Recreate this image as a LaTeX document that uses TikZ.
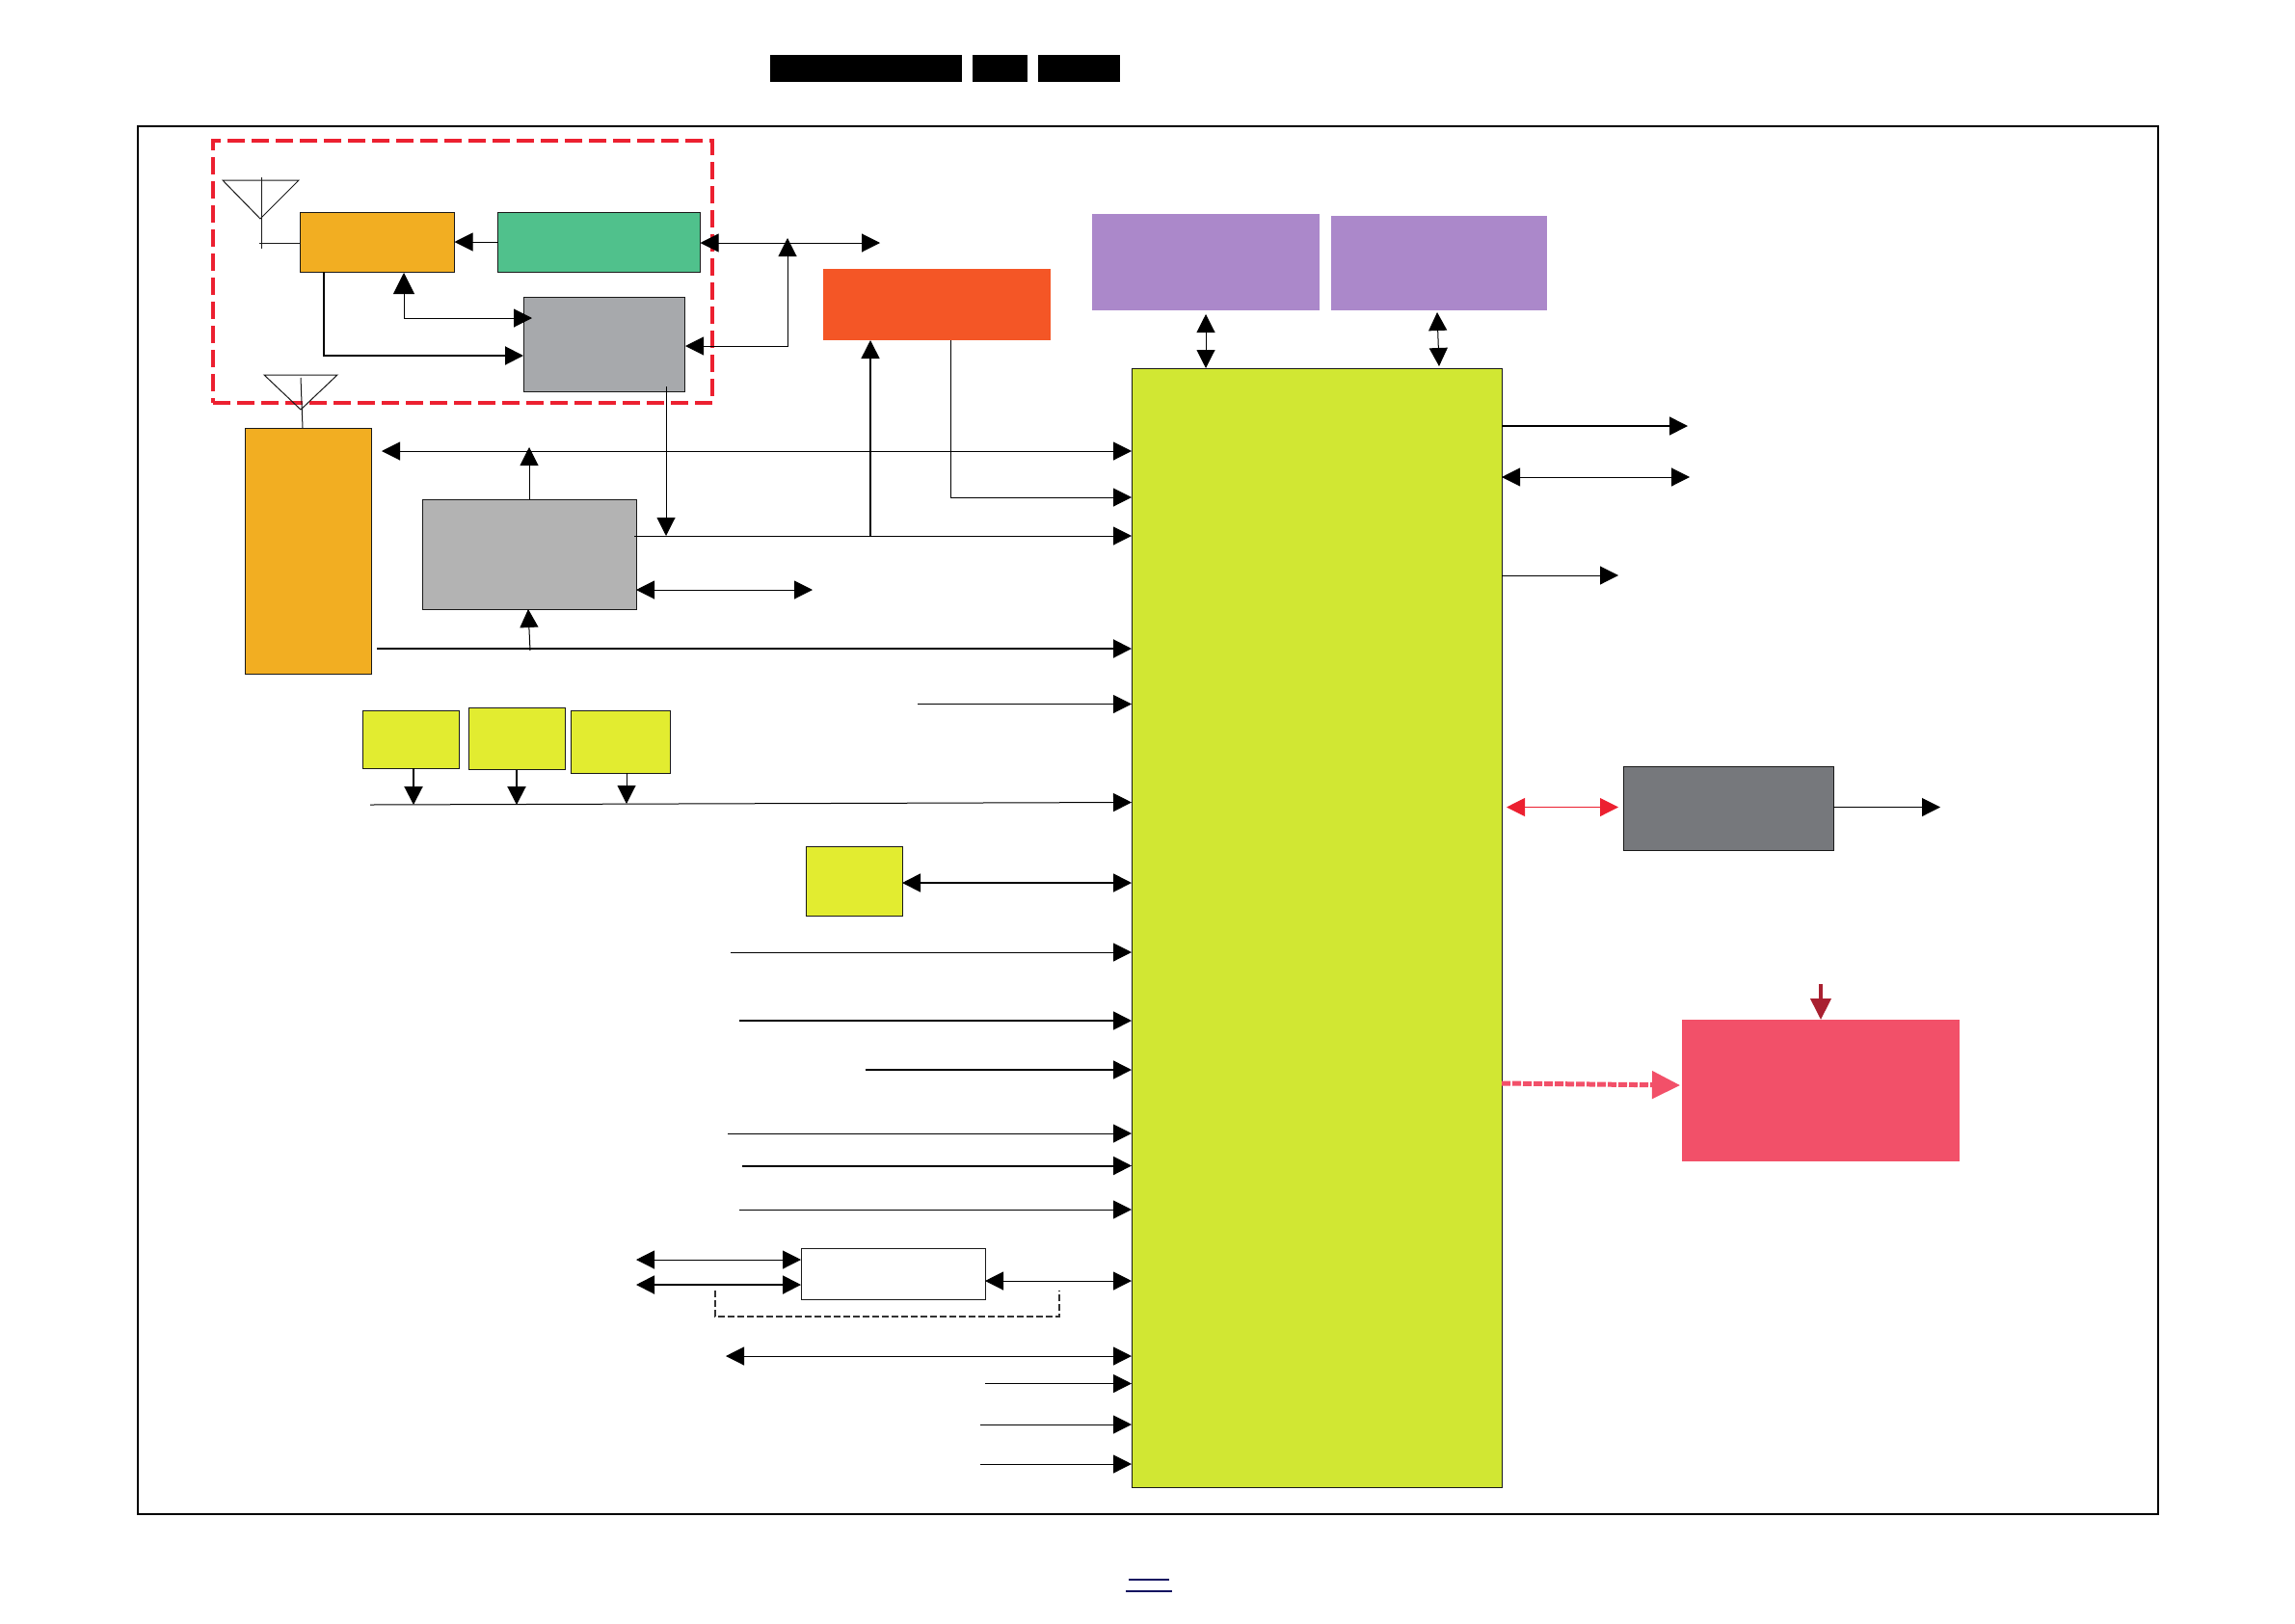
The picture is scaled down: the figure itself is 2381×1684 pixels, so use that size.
\documentclass[tikz,border=0pt]{standalone}
\usepackage{tikz}
\usetikzlibrary{arrows.meta}

\definecolor{radioorange}{HTML}{F2AE22}
\definecolor{radiogreen}{HTML}{50C18C}
\definecolor{darkblock}{HTML}{A7A9AC}
\definecolor{lightblock}{HTML}{B3B3B3}
\definecolor{hotorange}{HTML}{F45626}
\definecolor{memviolet}{HTML}{AB88CA}
\definecolor{socline}{HTML}{D1E733}
\definecolor{smallyellow}{HTML}{E2EC30}
\definecolor{slateblock}{HTML}{76787C}
\definecolor{panelpink}{HTML}{F25069}
\definecolor{zonered}{HTML}{EC2030}
\definecolor{crimson}{HTML}{A92030}
\definecolor{footnavy}{HTML}{101060}

\tikzset{
  blockbox/.style={draw=black!90,line width=1pt,inner sep=0pt,outer sep=0pt},
  flatbox/.style={inner sep=0pt,outer sep=0pt},
  sig/.style={-{Triangle[length=19pt,width=19pt]},line width=1pt,black},
  sigthick/.style={sig,line width=2pt},
  duplex/.style={{Triangle[length=19pt,width=19pt]}-{Triangle[length=19pt,width=19pt]},line width=1pt,black},
  duplexthick/.style={duplex,line width=2pt},
  aerial/.style={line width=1pt,black!90}
}

\begin{document}
\begin{tikzpicture}[x=1pt,y=-1pt]
  \useasboundingbox (0,0) rectangle (2381,1684);

  % page furniture
  \node[flatbox,fill=black,minimum width=199pt,minimum height=28pt] (barA) at (898.5,71) {};
  \node[flatbox,fill=black,minimum width=57pt,minimum height=28pt] (barB) at (1037.5,71) {};
  \node[flatbox,fill=black,minimum width=85pt,minimum height=28pt] (barC) at (1119.5,71) {};
  \node[draw=black,line width=2pt,inner sep=0pt,minimum width=2096pt,minimum height=1440pt] (frame) at (1190.5,850.5) {};
  \draw[footnavy,line width=1.5pt] (1171,1639) -- (1213,1639);
  \draw[footnavy,line width=1.5pt] (1168,1651) -- (1216,1651);

  % blocks
  \node[blockbox,fill=radioorange,minimum width=160pt,minimum height=62pt] (orangeA) at (391.5,251) {};
  \node[blockbox,fill=radiogreen,minimum width=210pt,minimum height=62pt] (greenA) at (621.5,251) {};
  \node[blockbox,fill=darkblock,minimum width=167pt,minimum height=98pt] (grayA) at (626.5,357) {};
  \node[blockbox,fill=radioorange,minimum width=131pt,minimum height=255pt] (orangeB) at (320,571.5) {};
  \node[blockbox,fill=lightblock,minimum width=222pt,minimum height=114pt] (grayB) at (549,575) {};
  \node[flatbox,fill=hotorange,minimum width=236pt,minimum height=74pt] (hotbox) at (972,316) {};
  \node[flatbox,fill=memviolet,minimum width=236pt,minimum height=100pt] (memA) at (1251,272) {};
  \node[flatbox,fill=memviolet,minimum width=224pt,minimum height=98pt] (memB) at (1493,273) {};
  \node[blockbox,fill=socline,minimum width=384pt,minimum height=1161pt] (main) at (1366,962.5) {};
  \node[blockbox,fill=smallyellow,minimum width=100pt,minimum height=60pt] (yelA) at (426,767) {};
  \node[blockbox,fill=smallyellow,minimum width=100pt,minimum height=64pt] (yelB) at (536,766.5) {};
  \node[blockbox,fill=smallyellow,minimum width=103pt,minimum height=65pt] (yelC) at (644,769.5) {};
  \node[blockbox,fill=smallyellow,minimum width=100pt,minimum height=72pt] (yelD) at (886,914) {};
  \node[blockbox,fill=white,minimum width=191pt,minimum height=53pt] (bridge) at (926.5,1321.5) {};
  \node[blockbox,fill=slateblock,minimum width=218pt,minimum height=87pt] (slate) at (1793,838.5) {};
  \node[flatbox,fill=panelpink,minimum width=288pt,minimum height=147pt] (panel) at (1889,1131.5) {};

  % tuner zone
  \node[draw=zonered,line width=4pt,dash pattern=on 18pt off 7pt,inner sep=0pt,minimum width=518pt,minimum height=272pt] (zone) at (480,282) {};

  % aerials
  \draw[aerial] (231,187) -- (310,187) -- (270,227) -- cycle;
  \draw[aerial] (271,184) -- (271,258);
  \coordinate (stemA) at (269,252);
  \draw[aerial] (stemA) -- (stemA -| orangeA.west);
  \draw[aerial] (274,389) -- (350,389) -- (312,425) -- cycle;
  \coordinate (stemB) at (312,392);
  \draw[aerial] (stemB) -- (314,444);

  % tuner zone links
  \draw[sig] (greenA.west) -- (orangeA.east);
  \coordinate (txOut) at (913,252);
  \draw[duplex] (greenA.east |- txOut) -- (txOut);
  \coordinate (ifUp) at (419,283);
  \coordinate (ifIn) at (552,330);
  \draw[duplex,{Triangle[length=22pt,width=22pt]}-{Triangle[length=19pt,width=19pt]}] (ifUp) |- (ifIn);
  \coordinate (rxDrop) at (336,282);
  \coordinate (rxIn) at (543,369);
  \draw[sigthick] (rxDrop) |- (rxIn);
  \coordinate (zoneTap) at (711,359);
  \coordinate (zoneUp) at (817,247);
  \draw[duplex] (zoneTap) -| (zoneUp);

  % left side, upper
  \coordinate (wifiIn) at (396,468);
  \draw[duplex] (wifiIn) -- (wifiIn -| main.west);
  \coordinate (grayUp) at (549,464);
  \draw[sig] (grayB.north) -- (grayUp);
  \coordinate (busStart) at (658,556);
  \coordinate (grayADrop) at (691,401);
  \draw[sig] (grayADrop) -- (grayADrop |- busStart);
  \draw[sig] (busStart) -- (busStart -| main.west);
  \coordinate (busTap) at (903,556);
  \draw[sigthick,line width=1.6pt] (busTap) -- (busTap |- hotbox.south);
  \coordinate (hotDrop) at (986,353);
  \coordinate (hotIn) at (1174,516);
  \draw[sig] (hotDrop) |- (hotIn);
  \coordinate (grayOut) at (843,612);
  \draw[duplex] (grayB.east |- grayOut) -- (grayOut);
  \coordinate (orangeOut) at (391,673);
  \draw[sigthick] (orangeOut) -- (orangeOut -| main.west);
  \coordinate (grayFeed) at (550,675);
  \draw[sig] (grayFeed) -- (548,632);

  % left side, lower
  \coordinate (inKey) at (952,730.5);
  \draw[sig] (inKey) -- (inKey -| main.west);
  \coordinate (yelBusA) at (384,835);
  \coordinate (yelBusB) at (1174,832.5);
  \draw[sig] (yelBusA) -- (yelBusB);
  \coordinate (yelDropA) at (429,797);
  \draw[sigthick] (yelDropA) -- (yelDropA |- yelBusA);
  \draw[sigthick] (yelB.south) -- (yelB.south |- yelBusA);
  \draw[sig] (650,802) -- (650,834);
  \draw[duplex,line width=1.8pt] (yelD.east |- 0,916) -- (main.west |- 0,916);
  \coordinate (inA) at (758,988);
  \coordinate (inB) at (767,1059);
  \coordinate (inC) at (898,1110);
  \coordinate (inD) at (755,1176);
  \coordinate (inE) at (770,1209.5);
  \coordinate (inF) at (767,1255);
  \draw[sig] (inA) -- (inA -| main.west);
  \draw[sig,line width=1.6pt] (inB) -- (inB -| main.west);
  \draw[sig,line width=1.6pt] (inC) -- (inC -| main.west);
  \draw[sig] (inD) -- (inD -| main.west);
  \draw[sigthick] (inE) -- (inE -| main.west);
  \draw[sig] (inF) -- (inF -| main.west);
  \coordinate (extA) at (660,1307);
  \coordinate (extB) at (660,1333);
  \draw[duplex] (extA) -- (extA -| bridge.west);
  \draw[duplexthick] (extB) -- (extB -| bridge.west);
  \coordinate (bridgeOut) at (1022,1329);
  \draw[duplex] (bridgeOut) -- (bridgeOut -| main.west);
  \coordinate (dashL) at (742,1339);
  \coordinate (dashR) at (1099,1339);
  \draw[line width=1.2pt,black!80,dash pattern=on 7pt off 3pt] (dashL) -- (742,1366) -- (1099,1366) -- (dashR);
  \coordinate (extC) at (753,1407);
  \draw[duplex] (extC) -- (extC -| main.west);
  \coordinate (inG) at (1022,1435.5);
  \coordinate (inH) at (1017,1478);
  \coordinate (inI) at (1017,1519);
  \draw[sig] (inG) -- (inG -| main.west);
  \draw[sig] (inH) -- (inH -| main.west);
  \draw[sig] (inI) -- (inI -| main.west);

  % top and right side
  \coordinate (memTipA) at (1251,326);
  \draw[duplex] (memTipA) -- (memTipA |- main.north);
  \coordinate (memTipB) at (1491,324);
  \coordinate (memFootB) at (1493,380);
  \draw[duplex] (memTipB) -- (memFootB);
  \coordinate (outA) at (1751,442);
  \coordinate (outB) at (1753,495);
  \coordinate (outC) at (1679,597);
  \draw[sig,line width=1.6pt] (main.east |- outA) -- (outA);
  \draw[duplex] (main.east |- outB) -- (outB);
  \draw[sig] (main.east |- outC) -- (outC);
  \coordinate (slateL) at (1563,837.5);
  \coordinate (slateR) at (1679,837.5);
  \draw[duplex,zonered] (slateL) -- (slateR);
  \coordinate (slateOut) at (2013,837.5);
  \draw[sig] (slate.east |- slateOut) -- (slateOut);
  \coordinate (panelDrop) at (1889,1021);
  \draw[crimson,line width=4pt,-{Triangle[length=22pt,width=21pt]}] (panelDrop) -- (panel.north);
  \coordinate (panelFrom) at (1558,1124);
  \coordinate (panelTip) at (1743,1126);
  \draw[panelpink,line width=5pt,dash pattern=on 9pt off 2pt,-{Triangle[length=29pt,width=28pt,fill=panelpink]}] (panelFrom) -- (panelTip);
\end{tikzpicture}
\end{document}
